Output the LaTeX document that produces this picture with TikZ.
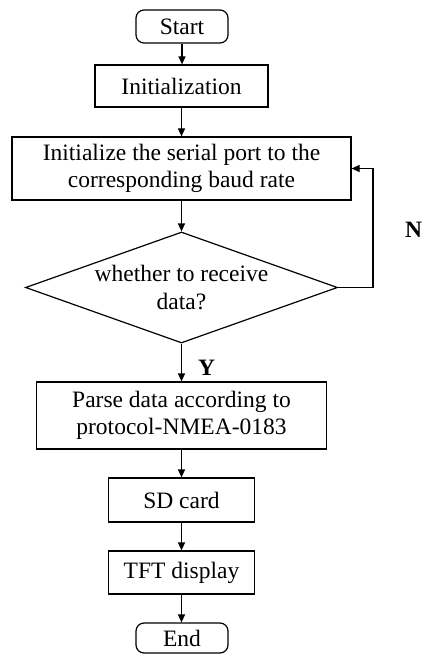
\documentclass[tikz,border=0pt]{standalone}
\usepackage{fontspec}
\setmainfont{Liberation Serif}
\usetikzlibrary{arrows.meta,shapes.geometric}
\begin{document}
\begin{tikzpicture}[x=1pt,y=-1pt,
  every node/.style={font=\fontsize{23.5}{27.5}\selectfont, inner sep=0pt, line width=1.2pt},
  term/.style={draw, rounded corners=8pt, minimum width=92pt},
  proc/.style={draw, align=center},
  dec/.style={draw, diamond, minimum width=312pt, minimum height=111pt},
  lab/.style={font=\fontsize{23.5}{27.5}\selectfont\bfseries},
  arr/.style={draw, line width=1.2pt, -{Triangle[length=8pt,width=7pt]}}]
\useasboundingbox (0,0) rectangle (421,655);
\node[term, minimum height=33pt] (start) at (182,26.5) {Start};
\node[proc, minimum width=173pt, minimum height=42pt] (init) at (181.5,86) {Initialization};
\node[proc, minimum width=339pt, minimum height=63pt] (serial) at (181.5,168.5) {Initialize the serial port to the\\corresponding baud rate};
\node[dec] (dec) at (181.5,287.5) {};
\node[align=center] (dectext) at (181.5,287.5) {whether to receive\\data?};
\node[proc, minimum width=290pt, minimum height=67pt] (parse) at (181.5,415.5) {Parse data according to\\protocol-NMEA-0183};
\node[proc, minimum width=146pt, minimum height=44pt] (sd) at (181.5,500) {SD card};
\node[proc, minimum width=146pt, minimum height=43pt] (tft) at (181.5,572.5) {TFT display};
\node[term, minimum height=30pt] (end) at (182,638) {End};
\node[lab] (ylab) at (206.5,367.5) {Y};
\node[lab] (nlab) at (413.5,230) {N};
\coordinate (loopr) at (373,287.5);
\draw[arr] (start.south) -- (start.south |- init.north);
\draw[arr] (init.south) -- (serial.north);
\draw[arr] (serial.south) -- (dec.north);
\draw[arr] (dec.south) -- (parse.north);
\draw[arr] (parse.south) -- (sd.north);
\draw[arr] (sd.south) -- (tft.north);
\draw[arr] (tft.south) -- (tft.south |- end.north);
\draw[arr] (dec.east) -- (loopr) |- (serial.east);
\end{tikzpicture}
\end{document}
